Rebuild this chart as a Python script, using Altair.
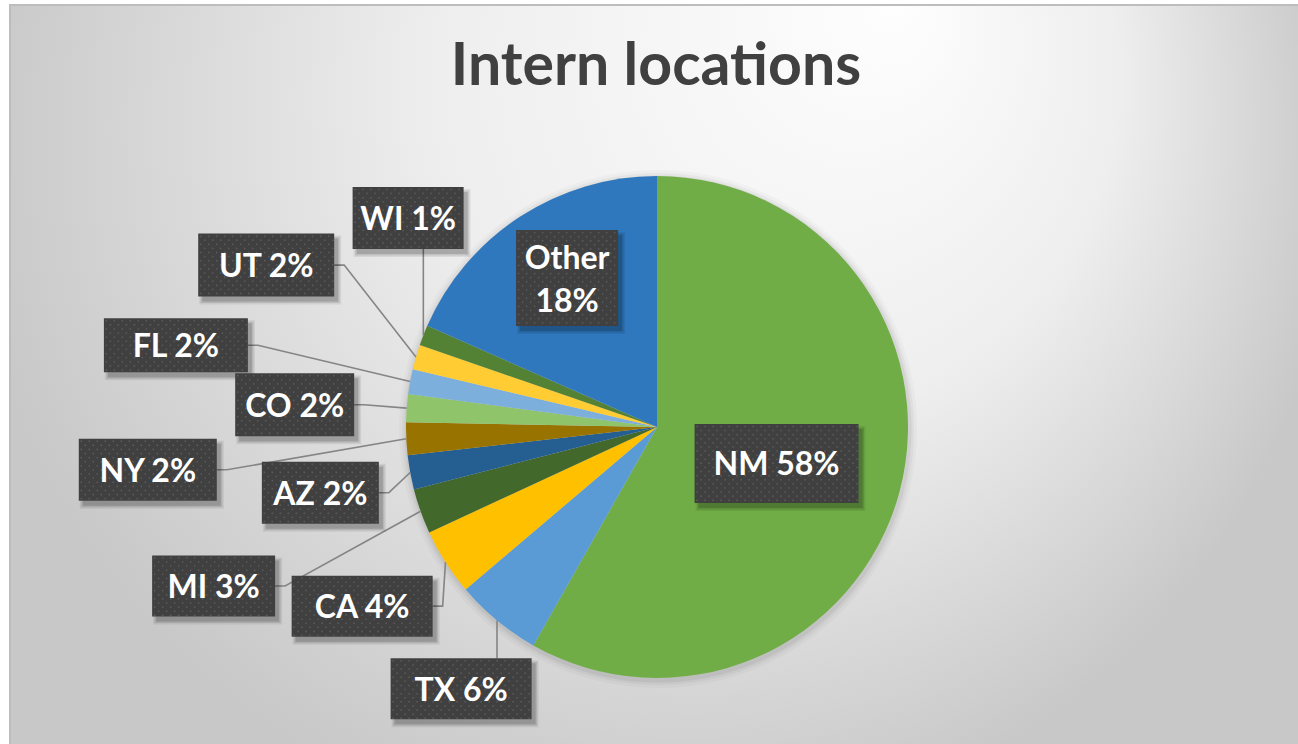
import math
import altair as alt
import pandas as pd

# ---------------- data ----------------
states = ["NM", "TX", "CA", "MI", "AZ", "NY", "CO", "FL", "UT", "WI", "Other"]
shares = [58.2, 5.6, 4.3, 2.9, 2.2, 2.1, 1.8, 1.6, 1.6, 1.3, 18.4]
colors = ["#70AD47", "#5B9BD5", "#FFC000", "#43682B", "#255E91", "#997300",
          "#8FC46A", "#7DAFDD", "#FFCD33", "#548235", "#2F78BE"]
title_text = "Intern locations"

# ---------------- layout ----------------
W, H = 1298, 744
CX, CY, R = 657, 427, 251
label_radius = [125, 327, 345, 471, 343, 511, 363, 488, 423, 325, 174]
label_turn = [2.2, -2.8, 1.3, -0.1, -0.6, -2.1, -0.8, -0.8, 6.3, 18.6, 2.0]
box_w = [164, 141, 141, 123, 117, 138, 119, 144, 136, 111, 102]
box_h = [79, 61, 61, 61, 62, 62, 63, 54, 63, 62, 96]
has_leader = [False, True, True, True, True, True, True, True, True, True, False]
LINE_H = 43

total = sum(shares)
rows, lines, dots = [], [], []
cum = 0.0
for i, (s, v) in enumerate(zip(states, shares)):
    a0 = cum / total * 360
    cum += v
    a1 = cum / total * 360
    mid = math.radians((a0 + a1) / 2)
    la = mid + math.radians(label_turn[i])
    lx = CX + label_radius[i] * math.sin(la)
    ly = CY - label_radius[i] * math.cos(la)
    w, h = box_w[i], box_h[i]
    x0, x1, y0, y1 = lx - w / 2, lx + w / 2, ly - h / 2, ly + h / 2
    pct = f"{round(v)}%"
    label = f"{s}\n{pct}" if s == "Other" else f"{s} {pct}"
    nlines = label.count("\n") + 1
    ty = ly - (nlines - 1) * LINE_H / 2
    rows.append(dict(state=s, idx=i, label=label, lx=lx, ly=ly, ty=ty,
                     x0=x0, x1=x1, y0=y0, y1=y1))
    if has_leader[i]:
        ex = CX + R * math.sin(mid)
        ey = CY - R * math.cos(mid)
        if x0 <= ex <= x1:
            pts = [(ex, ey), (ex, y0 if ey < y0 else y1)]
        elif ex > x1:
            pts = [(ex, ey), (x1 + 10, ly), (x1, ly)]
        else:
            pts = [(ex, ey), (x0 - 10, ly), (x0, ly)]
        for k, (px, py) in enumerate(pts):
            lines.append(dict(state=s, seq=k, x=px, y=py))
    r = 0
    yy = y0 + 2.5
    while yy < y1 - 1:
        xx = x0 + 2.5 + (4 if r % 2 else 0)
        while xx < x1 - 1:
            dots.append(dict(x=xx, y=yy))
            xx += 8
        yy += 4.1
        r += 1

lab_df = pd.DataFrame(rows)
line_df = pd.DataFrame(lines)
dot_df = pd.DataFrame(dots)
pie_df = pd.DataFrame({"state": states, "share": shares, "idx": list(range(len(states)))})

xs = alt.Scale(domain=[0, W], range=[0, W], nice=False, zero=False)
ys = alt.Scale(domain=[0, H], range=[0, H], nice=False, zero=False)


def X(f):
    return alt.X(f, scale=xs, axis=None)


def Y(f):
    return alt.Y(f, scale=ys, axis=None)


one = pd.DataFrame({"a": [0]})

bg_fill = {
    "gradient": "radial",
    "x1": 0.674, "y1": 0.203, "r1": 0,
    "x2": 0.488, "y2": 0.32, "r2": 0.52,
    "stops": [
        {"offset": 0, "color": "#FEFEFE"},
        {"offset": 0.5, "color": "#EEEEEE"},
        {"offset": 1, "color": "#C8C8C8"},
    ],
}
background = alt.Chart(one).mark_rect(fill=bg_fill, stroke="#BDBDBD", strokeWidth=2).encode(
    x=alt.value(10), x2=alt.value(1330), y=alt.value(5), y2=alt.value(780)
)

# soft shadow around the pie
shadow_layers = []
for extra, op in [(8, 0.025), (5, 0.035), (2.5, 0.05)]:
    shadow_layers.append(
        alt.Chart(one).mark_arc(outerRadius=R + extra, color="black", opacity=op).encode(
            theta=alt.value(0), theta2=alt.value(2 * math.pi),
            x=alt.value(CX + 1), y=alt.value(CY + 2)
        )
    )

pie = alt.Chart(pie_df).mark_arc(outerRadius=R).encode(
    theta=alt.Theta("share:Q", stack=True),
    color=alt.Color("state:N", scale=alt.Scale(domain=states, range=colors), legend=None),
    order=alt.Order("idx:Q"),
    x=alt.value(CX), y=alt.value(CY),
)

leaders = alt.Chart(line_df).mark_line(color="#858585", strokeWidth=1.6).encode(
    x=X("x:Q"), y=Y("y:Q"), detail="state:N", order="seq:Q"
)

box_shadows = []
for dx, dy, grow, op in [(4, 5, 3, 0.07), (4, 5, 1.5, 0.1), (4, 5, 0, 0.14)]:
    box_shadows.append(
        alt.Chart(lab_df).transform_calculate(
            sx0=f"datum.x0 + {dx - grow}", sx1=f"datum.x1 + {dx + grow}",
            sy0=f"datum.y0 + {dy - grow}", sy1=f"datum.y1 + {dy + grow}",
        ).mark_rect(color="black", opacity=op).encode(
            x=X("sx0:Q"), x2="sx1:Q", y=Y("sy0:Q"), y2="sy1:Q"
        )
    )

boxes = alt.Chart(lab_df).mark_rect(color="#404040").encode(
    x=X("x0:Q"), x2="x1:Q", y=Y("y0:Q"), y2="y1:Q"
)

dot_layer = alt.Chart(dot_df).mark_square(size=2.2, color="#5C5C5C", opacity=1).encode(
    x=X("x:Q"), y=Y("y:Q")
)

texts = alt.Chart(lab_df).mark_text(
    font="Lato", fontWeight="bold", fontSize=32, color="white",
    lineBreak="\n", lineHeight=LINE_H, baseline="middle", align="center", dy=2
).encode(x=X("lx:Q"), y=Y("ty:Q"), text="label:N")

title = alt.Chart(pd.DataFrame({"t": [title_text]})).mark_text(
    font="Lato", fontWeight="bold", fontSize=59, color="#404040",
    baseline="alphabetic", align="center"
).encode(text="t:N", x=alt.value(656), y=alt.value(85))

chart = alt.layer(
    background, *shadow_layers, pie, leaders, *box_shadows, boxes, dot_layer, texts, title
).properties(
    width=W, height=H, autosize=alt.AutoSizeParams(type="none"), padding=0,
    background="white"
).configure_view(stroke=None)

chart.save("out.html", embed_options={"renderer": "svg", "actions": False})
